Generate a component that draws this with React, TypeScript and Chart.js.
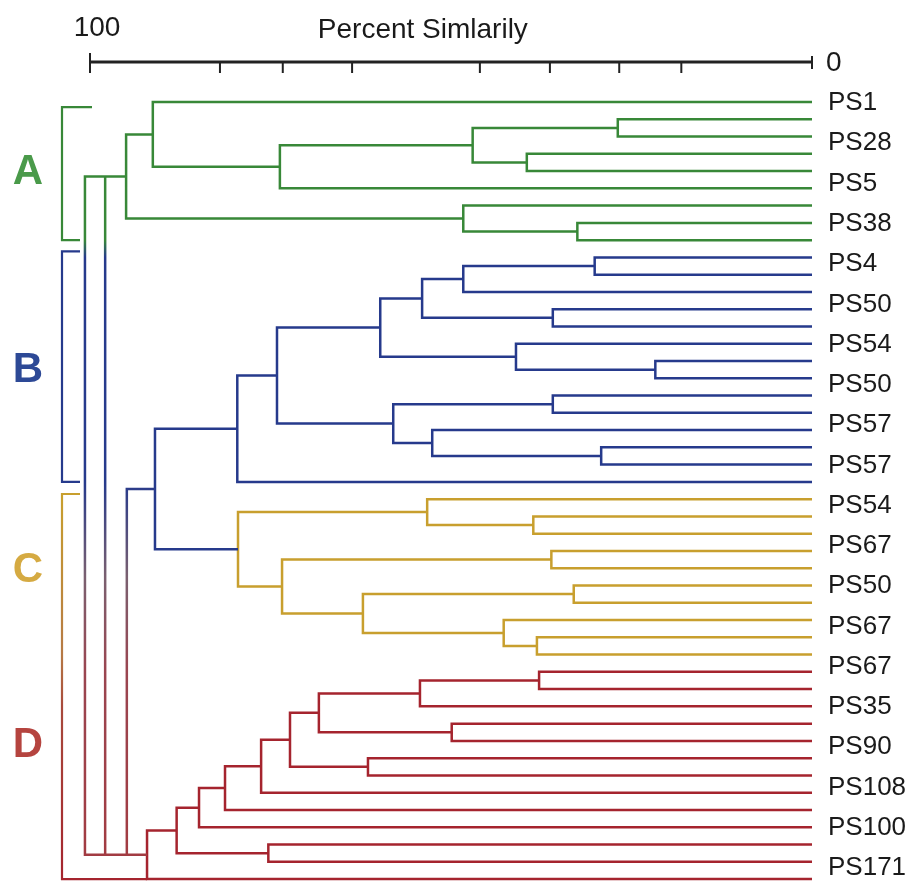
import React, { useEffect, useRef } from "react";
import { Chart, registerables } from "chart.js";

Chart.register(...registerables);

// ---------- data ----------
const groupNames = ["A", "B", "C", "D"];
const groupLeafCounts = [9, 14, 10, 13];

const leafLabels = [
  "PS1", "PS28", "PS5", "PS38", "PS4", "PS50", "PS54", "PS50", "PS57", "PS57",
  "PS54", "PS67", "PS50", "PS67", "PS67", "PS35", "PS90", "PS108", "PS100", "PS171",
];

const similarityTicks = [100, 82, 73.3, 63.7, 46, 36.3, 26.7, 18.1, 0];
const axisTitle = "Percent Simlarily";

type Link = [string, string, string, number]; // [node, child1, child2, % similarity]

const linkageA: Link[] = [
  ["A1", "a2", "a3", 26.9],
  ["A2", "a4", "a5", 39.5],
  ["A3", "A1", "A2", 47.0],
  ["A4", "A3", "a6", 73.7],
  ["A5", "a1", "A4", 91.3],
  ["A6", "a8", "a9", 32.5],
  ["A7", "a7", "A6", 48.3],
  ["A8", "A5", "A7", 95.0],
];

const linkageB: Link[] = [
  ["B1", "b1", "b2", 30.1],
  ["B2", "B1", "b3", 48.3],
  ["B3", "b4", "b5", 35.9],
  ["B4", "B2", "B3", 54.0],
  ["B5", "b7", "b8", 21.7],
  ["B6", "b6", "B5", 41.0],
  ["B7", "B4", "B6", 59.8],
  ["B8", "b9", "b10", 35.9],
  ["B9", "b12", "b13", 29.2],
  ["B10", "b11", "B9", 52.6],
  ["B11", "B8", "B10", 58.0],
  ["B12", "B7", "B11", 74.1],
  ["B13", "B12", "b14", 79.6],
];

const linkageC: Link[] = [
  ["C1", "c2", "c3", 38.6],
  ["C2", "c1", "C1", 53.3],
  ["C3", "c4", "c5", 36.1],
  ["C4", "c6", "c7", 33.0],
  ["C5", "c9", "c10", 38.1],
  ["C6", "c8", "C5", 42.7],
  ["C7", "C4", "C6", 62.2],
  ["C8", "C3", "C7", 73.4],
  ["C9", "C2", "C8", 79.5],
];

const linkageBC: Link[] = [["BC", "B13", "C9", 91.0]];

const linkageD: Link[] = [
  ["D1", "d1", "d2", 37.8],
  ["D2", "D1", "d3", 54.3],
  ["D3", "d4", "d5", 49.9],
  ["D4", "D2", "D3", 68.3],
  ["D5", "d6", "d7", 61.5],
  ["D6", "D4", "D5", 72.3],
  ["D7", "D6", "d8", 76.3],
  ["D8", "D7", "d9", 81.3],
  ["D9", "D8", "d10", 84.9],
  ["D10", "d11", "d12", 75.3],
  ["D11", "D9", "D10", 88.0],
  ["D12", "D11", "d13", 92.1],
];

const linkageOuter: Link[] = [
  ["O1", "BC", "D12", 94.9],
  ["O2", "A8", "D12", 97.9],
  ["O3", "A8", "D12", 100.7],
];

// ---------- styles ----------
const GREEN = "#388838";
const BLUE = "#263a8c";
const GOLD = "#c89f2e";
const RED = "#a5242e";
const letterColors = ["#4a9a4a", "#2d4996", "#d5aa42", "#b5443f"];
const letterAnchor = [0.5, 0.5, 0.45, 0.35];
const FONT = "'Liberation Sans', Arial, Helvetica, sans-serif";
const LINE_W = 2.5;

// ---------- layout computation ----------
const leafIds: string[] = [];
const groupStart: number[] = [];
const groupEnd: number[] = [];
groupNames.forEach((g, gi) => {
  groupStart.push(leafIds.length);
  for (let i = 0; i < groupLeafCounts[gi]; i++) leafIds.push(g.toLowerCase() + (i + 1));
  groupEnd.push(leafIds.length - 1);
});

const pos: Record<string, { x: number; y: number }> = {};
leafIds.forEach((id, i) => (pos[id] = { x: 0, y: i }));
[...linkageA, ...linkageB, ...linkageC, ...linkageBC, ...linkageD, ...linkageOuter].forEach(
  ([id, l, r, h]) => {
    pos[id] = { x: h, y: (pos[l].y + pos[r].y) / 2 };
  }
);

function elbowPoints(links: Link[]) {
  const pts: { x: number | null; y: number | null }[] = [];
  for (const [, l, r, h] of links) {
    const a = pos[l];
    const b = pos[r];
    pts.push({ x: a.x, y: a.y }, { x: h, y: a.y }, { x: h, y: b.y }, { x: b.x, y: b.y }, { x: null, y: null });
  }
  return pts;
}

function vGradient(chart: any, stops: [number, string][]) {
  const { ctx, chartArea, scales } = chart;
  if (!chartArea || !scales.y) return stops[0][1];
  const g = ctx.createLinearGradient(0, chartArea.top, 0, chartArea.bottom);
  const h = chartArea.bottom - chartArea.top;
  for (const [v, c] of stops) {
    const p = (scales.y.getPixelForValue(v) - chartArea.top) / h;
    g.addColorStop(Math.min(1, Math.max(0, p)), c);
  }
  return g;
}

const outerStops = (): [number, string][] => [
  [groupEnd[0], GREEN],
  [groupStart[1], BLUE],
  [groupEnd[1], BLUE],
  [(groupStart[2] + groupEnd[2]) / 2, "#7a6070"],
  [groupStart[3], "#9a4550"],
  [groupEnd[3], "#a33a40"],
];

const bracketStops = (): [number, string][] => [
  [groupStart[2], GOLD],
  [groupEnd[2], "#b67a45"],
  [groupStart[3] + 2, "#a84a3c"],
  [groupEnd[3], RED],
];

function strokeLine(ctx: CanvasRenderingContext2D, x1: number, y1: number, x2: number, y2: number) {
  ctx.beginPath();
  ctx.moveTo(x1, y1);
  ctx.lineTo(x2, y2);
  ctx.stroke();
}

const decorPlugin = {
  id: "decor",
  afterDraw(chart: any) {
    const { ctx, chartArea, scales } = chart;
    const xs = scales.x;
    const ys = scales.y;
    const yl = scales.yLabel;
    ctx.save();

    // top similarity axis
    const axisY = chartArea.top - 30;
    const xL = xs.getPixelForValue(100);
    const xR = xs.getPixelForValue(0);
    ctx.strokeStyle = "#222";
    ctx.lineWidth = 2.8;
    ctx.lineCap = "butt";
    strokeLine(ctx, xL, axisY, xR, axisY);
    ctx.lineWidth = 2;
    similarityTicks.forEach((v, i) => {
      const px = xs.getPixelForValue(v);
      if (i === 0) strokeLine(ctx, px, axisY - 9, px, axisY + 11);
      else if (i === similarityTicks.length - 1) strokeLine(ctx, px, axisY - 6, px, axisY + 7);
      else strokeLine(ctx, px, axisY, px, axisY + 11);
    });
    ctx.fillStyle = "#1a1a1a";
    ctx.font = `28px ${FONT}`;
    ctx.textBaseline = "middle";
    ctx.textAlign = "center";
    ctx.fillText(String(similarityTicks[0]), xL + 7, 28);
    ctx.fillText(axisTitle, xL + (xR - xL) * 0.461, 30);
    ctx.textAlign = "left";
    ctx.fillText(String(similarityTicks[similarityTicks.length - 1]), xR + 14, axisY + 1);

    // leaf labels
    ctx.font = `26px ${FONT}`;
    leafLabels.forEach((t, i) => {
      ctx.fillText(t, chartArea.right + 16, yl.getPixelForValue(i));
    });

    // brackets
    const bx = chartArea.left - 28;
    ctx.lineWidth = 2.2;
    // A
    ctx.strokeStyle = GREEN;
    let t = ys.getPixelForValue(groupStart[0] + 0.3);
    let b = ys.getPixelForValue(groupEnd[0]);
    ctx.beginPath();
    ctx.moveTo(chartArea.left + 2, t);
    ctx.lineTo(bx, t);
    ctx.lineTo(bx, b);
    ctx.lineTo(chartArea.left - 10, b);
    ctx.stroke();
    // B
    ctx.strokeStyle = BLUE;
    t = ys.getPixelForValue(groupStart[1] - 0.35);
    b = ys.getPixelForValue(groupEnd[1]);
    ctx.beginPath();
    ctx.moveTo(chartArea.left - 10, t);
    ctx.lineTo(bx, t);
    ctx.lineTo(bx, b);
    ctx.lineTo(chartArea.left - 10, b);
    ctx.stroke();
    // C + D
    ctx.strokeStyle = vGradient(chart, bracketStops());
    t = ys.getPixelForValue(groupStart[2] - 0.3);
    b = ys.getPixelForValue(groupEnd[3]);
    ctx.beginPath();
    ctx.moveTo(chartArea.left - 10, t);
    ctx.lineTo(bx, t);
    ctx.lineTo(bx, b);
    ctx.lineTo(xs.getPixelForValue(pos["D12"].x), b);
    ctx.stroke();

    // group letters
    ctx.font = `bold 42px ${FONT}`;
    ctx.textAlign = "center";
    groupNames.forEach((g, gi) => {
      const v = groupStart[gi] + (groupEnd[gi] - groupStart[gi]) * letterAnchor[gi];
      ctx.fillStyle = letterColors[gi];
      ctx.fillText(g, 28, ys.getPixelForValue(v) + 1);
    });

    ctx.restore();
  },
};

function makeDataset(links: Link[], color: any) {
  return {
    data: elbowPoints(links),
    borderColor: color,
    borderWidth: LINE_W,
    showLine: true,
    pointRadius: 0,
    spanGaps: false,
    clip: false as const,
    tension: 0,
    borderJoinStyle: "miter" as const,
  };
}

export default function App() {
  const ref = useRef<HTMLCanvasElement>(null);
  useEffect(() => {
    if (!ref.current) return;
    const chart = new Chart(ref.current, {
      type: "scatter",
      data: {
        datasets: [
          makeDataset(linkageOuter, (c: any) => vGradient(c.chart, outerStops())),
          makeDataset(linkageA, GREEN),
          makeDataset([...linkageB, ...linkageBC], BLUE),
          makeDataset(linkageC, GOLD),
          makeDataset(linkageD, RED),
        ] as any,
      },
      options: {
        animation: false,
        responsive: false,
        events: [],
        layout: { padding: { left: 90, right: 105, top: 92, bottom: 0 } },
        plugins: { legend: { display: false }, tooltip: { enabled: false } },
        scales: {
          x: { type: "linear", min: 0, max: 100, reverse: true, display: false },
          y: { type: "linear", min: -0.58, max: 45.23, reverse: true, display: false },
          yLabel: { type: "linear", axis: "y", min: -0.273, max: 19.37, reverse: true, display: false, position: "right" },
        } as any,
      },
      plugins: [decorPlugin],
    });
    return () => chart.destroy();
  }, []);
  return (
    <div style={{ position: "absolute", left: 0, top: 0, width: 917, height: 883, background: "#fff" }}>
      <canvas ref={ref} width={917} height={883} style={{ display: "block" }} />
    </div>
  );
}
